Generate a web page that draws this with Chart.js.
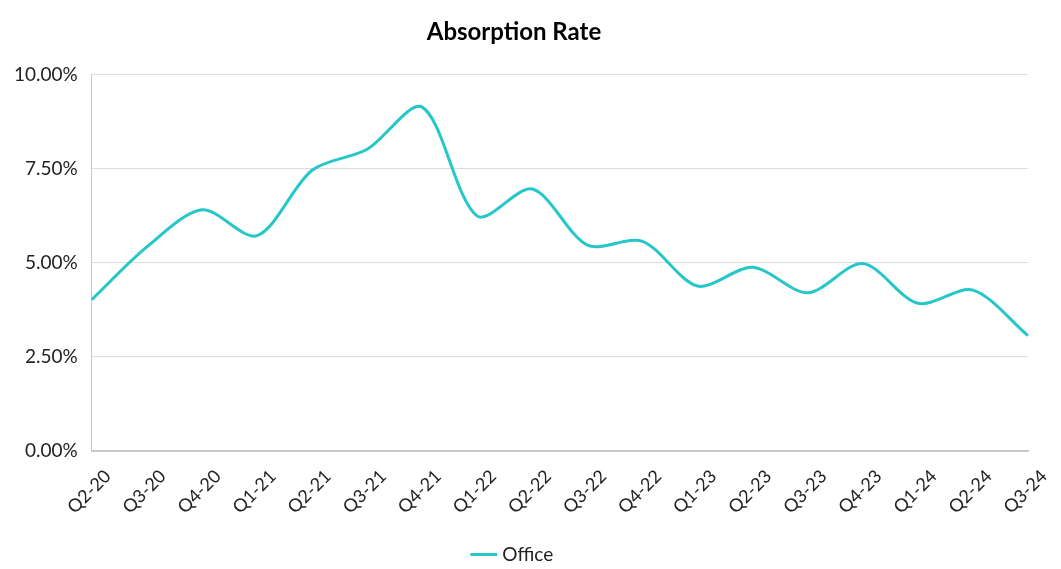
<!DOCTYPE html>
<html>
<head>
<meta charset="utf-8">
<script src="https://cdn.jsdelivr.net/npm/chart.js@4/dist/chart.umd.min.js"></script>
<style>
  html, body { margin: 0; padding: 0; background: #fff; }
  #wrap { width: 1061px; height: 569px; position: relative; }
</style>
</head>
<body>
<div id="wrap"><canvas id="c"></canvas></div>
<script>
const categories = ["Q2-20","Q3-20","Q4-20","Q1-21","Q2-21","Q3-21","Q4-21","Q1-22","Q2-22","Q3-22","Q4-22","Q1-23","Q2-23","Q3-23","Q4-23","Q1-24","Q2-24","Q3-24"];
const officeValues = [4.02, 5.42, 6.41, 5.72, 7.46, 8.02, 9.14, 6.24, 6.96, 5.47, 5.57, 4.38, 4.88, 4.20, 4.98, 3.92, 4.27, 3.06];
const yTicks = [0, 2.5, 5, 7.5, 10];
const seriesName = "Office";
const chartTitle = "Absorption Rate";

const FONT = "Lato, 'Open Sans', sans-serif";

new Chart(document.getElementById('c'), {
  type: 'line',
  data: {
    labels: categories,
    datasets: [{
      label: seriesName,
      data: officeValues,
      borderColor: '#27C6C9',
      backgroundColor: '#27C6C9',
      borderWidth: 3,
      pointRadius: 0,
      tension: 0.3,
      fill: false
    }]
  },
  options: {
    responsive: true,
    maintainAspectRatio: false,
    animation: false,
    layout: { padding: { left: 0, right: 33, top: 8, bottom: -5 } },
    plugins: {
      title: {
        display: true,
        text: chartTitle,
        color: '#000',
        font: { family: FONT, size: 24, weight: 'bold' },
        padding: { top: 10, bottom: 28 }
      },
      legend: {
        position: 'bottom',
        labels: {
          usePointStyle: true,
          pointStyle: 'line',
          boxWidth: 18,
          color: '#222',
          font: { family: FONT, size: 19 },
          padding: 2
        }
      },
      tooltip: { enabled: false }
    },
    scales: {
      x: {
        offset: false,
        grid: { display: false, drawTicks: false },
        border: { display: true, color: '#c8c8c8', width: 2 },
        afterFit: (axis) => { axis.height += 10; },
        ticks: {
          color: '#222',
          font: { family: FONT, size: 18 },
          maxRotation: 45,
          minRotation: 45,
          padding: 15,
          labelOffset: 16,
          autoSkip: false
        }
      },
      y: {
        min: 0,
        max: 10,
        afterBuildTicks: (axis) => { axis.ticks = yTicks.map(v => ({ value: v })); },
        grid: { color: '#dcdcdc', lineWidth: 1, drawTicks: false },
        border: { display: true, color: '#c8c8c8', width: 1 },
        ticks: {
          color: '#222',
          font: { family: FONT, size: 19 },
          padding: 14,
          callback: (v) => Number(v).toFixed(2) + '%'
        }
      }
    }
  }
});
</script>
</body>
</html>
